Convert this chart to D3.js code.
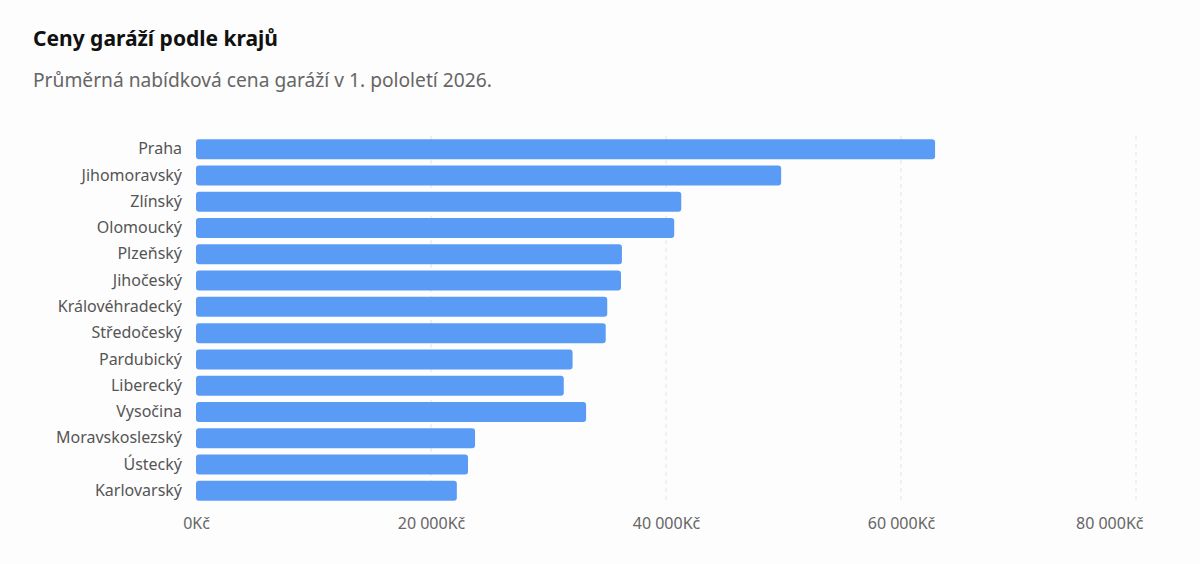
<!DOCTYPE html>
<html>
<head>
<meta charset="utf-8">
<script src="https://cdn.jsdelivr.net/npm/d3@7/dist/d3.min.js"></script>
<style>
  html, body { margin: 0; padding: 0; background: #fdfdfd; }
  svg { display: block; font-family: "Noto Sans", "Open Sans", sans-serif; }
</style>
</head>
<body>
<svg id="chart" width="1200" height="564"></svg>
<script>
const REGIONS = [
  "Praha", "Jihomoravský", "Zlínský", "Olomoucký", "Plzeňský", "Jihočeský",
  "Královéhradecký", "Středočeský", "Pardubický", "Liberecký", "Vysočina",
  "Moravskoslezský", "Ústecký", "Karlovarský"
];
const PRICES = [
  62900, 49800, 41300, 40700, 36250, 36170,
  35000, 34870, 32050, 31300, 33200,
  23750, 23150, 22200
];
const TICKS = [0, 20000, 40000, 60000, 80000];

const data = REGIONS.map((region, i) => ({ region, value: PRICES[i] }));

const margin = { top: 136, right: 64, bottom: 60, left: 196 };
const width = 1200;
const height = 564;

const svg = d3.select("#chart");

svg.append("text")
  .attr("x", 33)
  .attr("y", 46)
  .text("Ceny garáží podle krajů")
  .style("font-size", "21px")
  .style("font-weight", "bold")
  .style("fill", "#111");

svg.append("text")
  .attr("x", 33)
  .attr("y", 87)
  .text("Průměrná nabídková cena garáží v 1. pololetí 2026.")
  .style("font-size", "19.2px")
  .style("fill", "#666");

const x = d3.scaleLinear()
  .domain([0, 80000])
  .range([margin.left, width - margin.right]);

const y = d3.scaleBand()
  .domain(REGIONS)
  .range([margin.top, height - margin.bottom])
  .paddingInner(0.24)
  .paddingOuter(0.12);

// dashed grid
svg.append("g")
  .selectAll("line")
  .data(TICKS.slice(1))
  .enter()
  .append("line")
  .attr("x1", (d) => x(d))
  .attr("x2", (d) => x(d))
  .attr("y1", margin.top)
  .attr("y2", height - margin.bottom)
  .attr("stroke", "#e2e2e2")
  .attr("stroke-width", 1)
  .attr("stroke-dasharray", "4,4");

svg.append("g")
  .selectAll(".bar")
  .data(data)
  .enter()
  .append("rect")
  .classed("bar", true)
  .attr("x", x(0))
  .attr("y", (d) => y(d.region))
  .attr("width", (d) => x(d.value) - x(0))
  .attr("height", y.bandwidth())
  .attr("rx", 3)
  .attr("fill", "#5a9cf5");

const fmt = (v) => (v === 0 ? "0" : d3.format(",")(v).replace(/,/g, " ")) + "Kč";

const xAxis = d3.axisBottom(x)
  .tickValues(TICKS)
  .tickFormat(fmt)
  .tickSize(0)
  .tickPadding(14);

const gx = svg.append("g")
  .attr("transform", `translate(0,${height - margin.bottom})`)
  .call(xAxis);
gx.select(".domain").remove();
gx.selectAll("text")
  .style("font-size", "16px")
  .style("font-family", "\"Noto Sans\", sans-serif")
  .style("fill", "#666");
// last label is kept inside the plot edge
gx.selectAll(".tick")
  .filter((d) => d === TICKS[TICKS.length - 1])
  .select("text")
  .attr("text-anchor", "end")
  .attr("dx", 7);

const yAxis = d3.axisLeft(y).tickSize(0).tickPadding(14);
const gy = svg.append("g")
  .attr("transform", `translate(${margin.left},0)`)
  .call(yAxis);
gy.select(".domain").remove();
gy.selectAll("text")
  .style("font-size", "16px")
  .style("font-family", "\"Noto Sans\", sans-serif")
  .style("fill", "#555");
</script>
</body>
</html>
